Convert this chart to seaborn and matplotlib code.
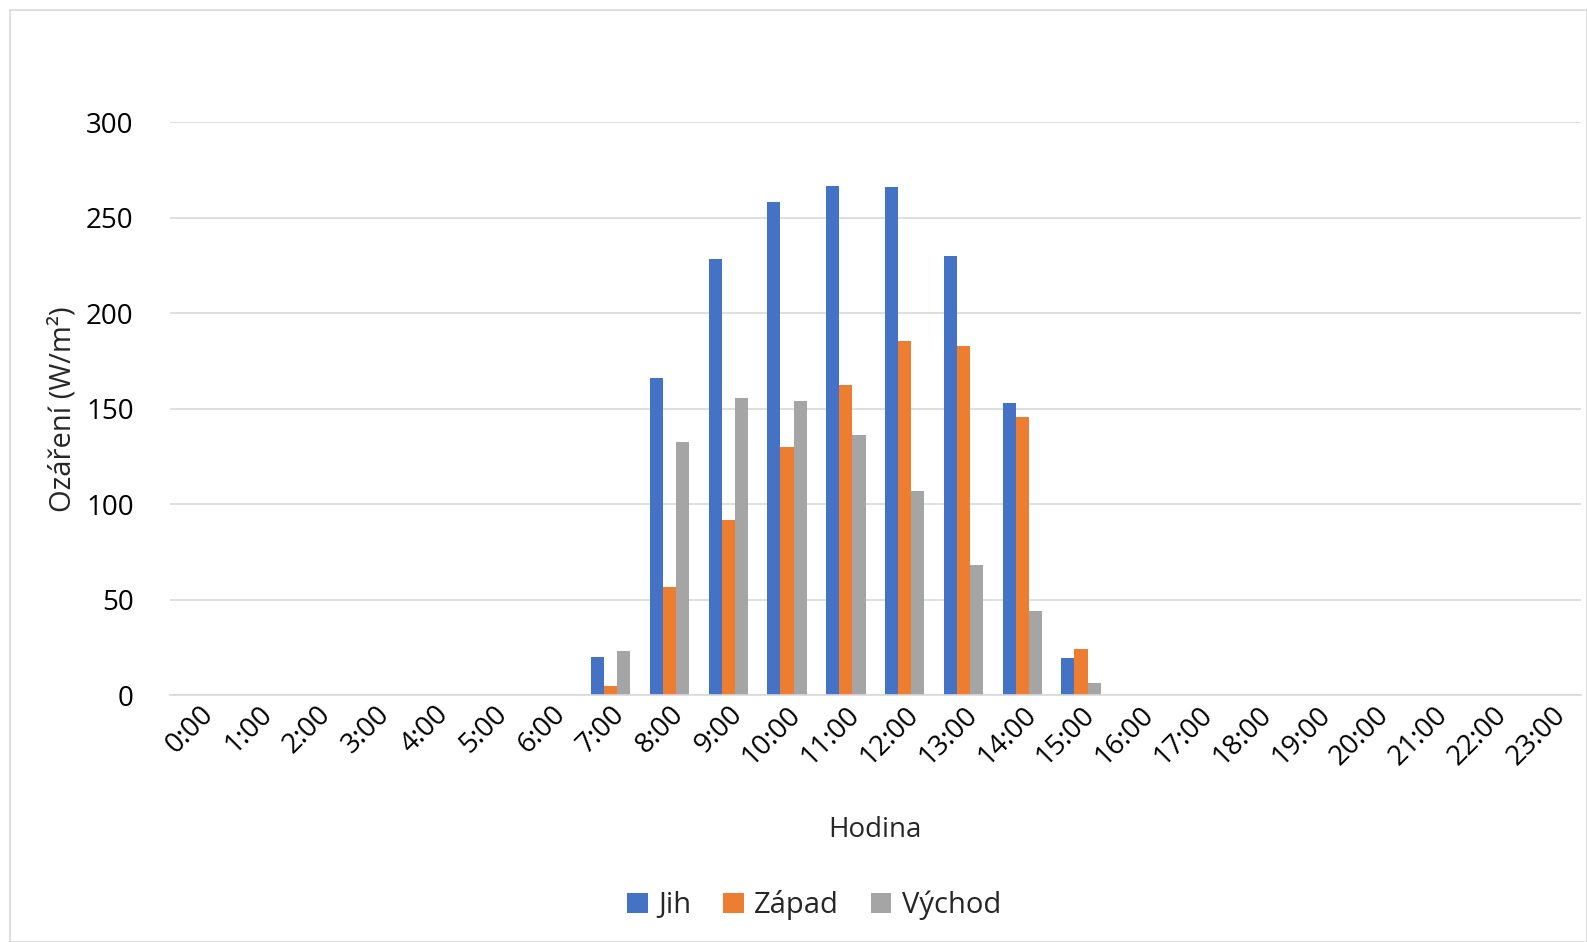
import matplotlib.pyplot as plt
import pandas as pd
import seaborn as sns
from matplotlib.patches import Rectangle

hours = [f"{h}:00" for h in range(24)]
jih = [0, 0, 0, 0, 0, 0, 0, 20, 166, 228.5, 258.3, 266.6, 266.2, 229.8, 153.2, 19.5,
       0, 0, 0, 0, 0, 0, 0, 0]
zapad = [0, 0, 0, 0, 0, 0, 0, 5, 56.7, 92, 130, 162.3, 185.6, 183, 145.8, 24,
         0, 0, 0, 0, 0, 0, 0, 0]
vychod = [0, 0, 0, 0, 0, 0, 0, 23, 132.5, 155.8, 154, 136.1, 107, 68.4, 44, 6.5,
          0, 0, 0, 0, 0, 0, 0, 0]
series = ["Jih", "Západ", "Východ"]
colors = ["#4472C4", "#ED7D31", "#A5A5A5"]

df = pd.DataFrame({"hodina": hours * 3,
                   "serie": [s for s in series for _ in hours],
                   "ozareni": jih + zapad + vychod})

sns.set_theme(style="white")
plt.rcParams["font.family"] = ["Open Sans", "DejaVu Sans"]
fs = 20

fig = plt.figure(figsize=(15.87, 9.42), dpi=100)
ax = fig.add_axes([0.107, 0.262, 0.889, 0.608])
fig.patches.append(Rectangle((0.006, 0.0), 0.994, 0.989, transform=fig.transFigure,
                             fill=False, edgecolor="#d9d9d9", linewidth=1.2))

sns.barplot(data=df, x="hodina", y="ozareni", hue="serie", hue_order=series,
            palette=colors, width=0.67, ax=ax, saturation=1, errorbar=None,
            linewidth=0)

ax.set_ylim(0, 300)
ax.set_yticks(range(0, 301, 50))
ax.set_xlim(-0.5, 23.5)
ax.yaxis.grid(True, color="#d9d9d9", linewidth=1.2)
ax.set_axisbelow(True)
for s in ["top", "right", "left"]:
    ax.spines[s].set_visible(False)
ax.spines["bottom"].set_color("#d9d9d9")
ax.spines["bottom"].set_linewidth(1.2)
ax.tick_params(axis="both", length=0, labelsize=fs, colors="black")
ax.tick_params(axis="y", pad=26)
ax.tick_params(axis="x", pad=4)
plt.setp(ax.get_xticklabels(), rotation=45, ha="right", rotation_mode="anchor")

ax.set_xlabel("Hodina", fontsize=fs, va="center")
ax.xaxis.set_label_coords(0.5, -0.235)
ax.set_ylabel("Ozáření (W/m²)", fontsize=fs + 1, va="center")
ax.yaxis.set_label_coords(-0.076, 0.5)

fig.legend(*ax.get_legend_handles_labels(), loc="center",
           bbox_to_anchor=(0.513, 0.039), ncol=3, frameon=False,
           fontsize=fs + 1, handlelength=0.7, handleheight=0.7, handletextpad=0.35,
           columnspacing=1.1)
ax.get_legend().remove()

fig.savefig("out.png", dpi=100)
